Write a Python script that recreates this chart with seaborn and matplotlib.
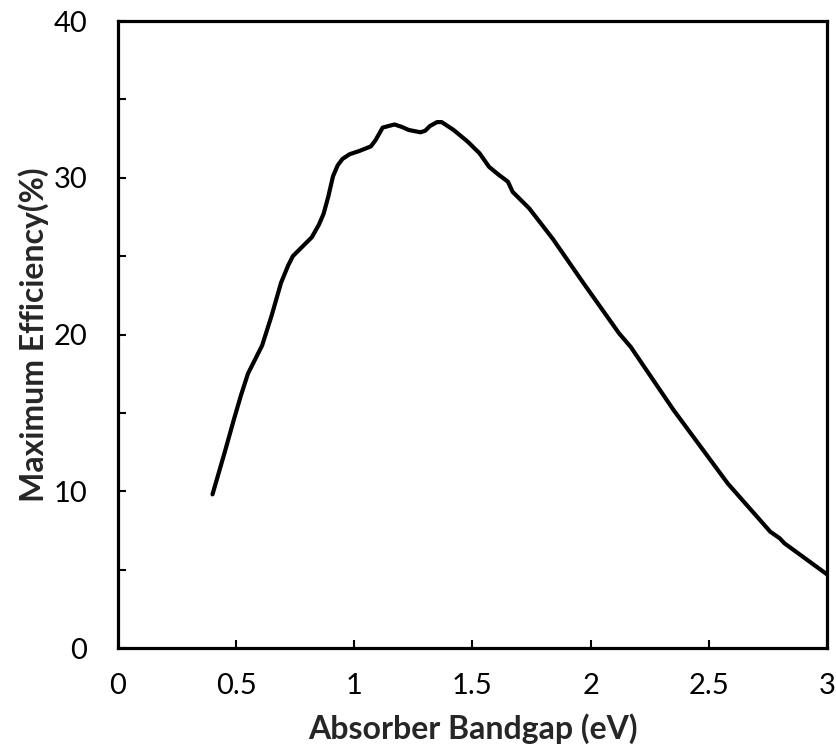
import matplotlib
matplotlib.use("Agg")
import matplotlib.pyplot as plt
from matplotlib.ticker import MultipleLocator
import seaborn as sns
import pandas as pd

bandgap = [0.40, 0.45, 0.49, 0.52, 0.55, 0.58, 0.61, 0.65, 0.69, 0.72, 0.74, 0.78,
           0.82, 0.85, 0.87, 0.89, 0.91, 0.93, 0.95, 0.98, 1.02,
           1.07, 1.09, 1.12, 1.17, 1.20, 1.23, 1.28, 1.30, 1.32, 1.35, 1.37, 1.39,
           1.42, 1.48, 1.53, 1.57, 1.61, 1.65,
           1.67, 1.74, 1.84, 1.97, 2.12, 2.17, 2.35, 2.58, 2.76, 2.80, 2.82, 2.84, 3.00]
efficiency = [9.8, 12.4, 14.55, 16.1, 17.5, 18.4, 19.3, 21.2, 23.3, 24.4, 25.0, 25.6,
              26.2, 27.0, 27.7, 28.8, 30.1, 30.8, 31.2, 31.5, 31.7,
              32.0, 32.4, 33.2, 33.4, 33.25, 33.05, 32.9, 33.0, 33.3, 33.55, 33.55, 33.35,
              33.05, 32.3, 31.56, 30.7, 30.2, 29.75,
              29.1, 28.05, 26.1, 23.27, 20.08, 19.2, 15.2, 10.5, 7.42, 7.0, 6.68, 6.46, 4.7]

xlabel = "Absorber Bandgap (eV)"
ylabel = "Maximum Efficiency(%)"

df = pd.DataFrame({"Bandgap": bandgap, "Efficiency": efficiency})

sns.set_style("ticks")
plt.rcParams["font.family"] = ["Lato", "DejaVu Sans"]

fig = plt.figure(figsize=(8.36, 7.45), dpi=100)
ax = fig.add_axes([0.1411, 0.1302, 0.8481, 0.8416])

sns.lineplot(data=df, x="Bandgap", y="Efficiency", color="black", linewidth=3.0,
             ax=ax, sort=False, solid_joinstyle="round", solid_capstyle="round")

ax.set_xlim(0, 3)
ax.set_ylim(0, 40)
ax.yaxis.set_minor_locator(MultipleLocator(5))
ax.set_xticks([0, 0.5, 1, 1.5, 2, 2.5, 3])
ax.set_xticklabels(["0", "0.5", "1", "1.5", "2", "2.5", "3"])
ax.set_yticks([0, 10, 20, 30, 40])
ax.set_yticklabels(["0", "10", "20", "30", "40"])

for s in ax.spines.values():
    s.set_visible(True)
    s.set_linewidth(2.3)
    s.set_color("black")

ax.tick_params(axis="both", which="both", direction="in", length=6, width=1.5,
               color="black", labelsize=21, labelcolor="black")
ax.tick_params(axis="x", pad=18)
ax.tick_params(axis="y", pad=22)

ax.set_xlabel(xlabel, fontsize=23, fontweight="bold", labelpad=10)
ax.set_ylabel(ylabel, fontsize=23, fontweight="bold", labelpad=3)
ax.grid(False)

fig.savefig("out.png", dpi=100)
